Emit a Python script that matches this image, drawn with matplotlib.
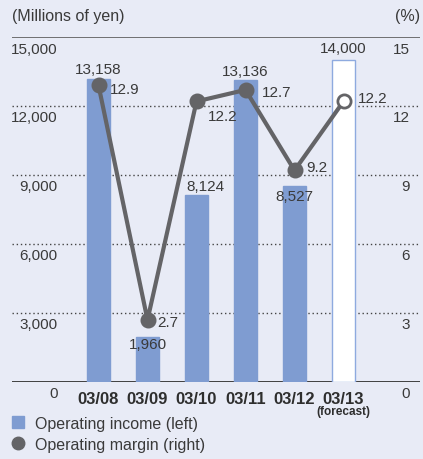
import numpy as np
import matplotlib
matplotlib.use('Agg')
import matplotlib.pyplot as plt
import matplotlib.transforms as mtransforms
from matplotlib.lines import Line2D

plt.rcParams['font.family'] = ['Liberation Sans', 'DejaVu Sans']

# data
years = ['03/08', '03/09', '03/10', '03/11', '03/12', '03/13']
income = [13158, 1960, 8124, 13136, 8527, 14000]
margin = [12.9, 2.7, 12.2, 12.7, 9.2, 12.2]
forecast = [False, False, False, False, False, True]
left_ticks = [0, 3000, 6000, 9000, 12000, 15000]
right_ticks = [0, 3, 6, 9, 12, 15]

bg = '#e8ebf6'
bar_col = '#7f9cd1'
line_col = '#646467'
txt = '#3a3a3a'

W, H = 423, 460
fig = plt.figure(figsize=(W / 100, H / 100), dpi=100, facecolor=bg)
ax = fig.add_axes([12 / W, 1 - 383 / H, 408 / W, 345 / H])
ax.set_facecolor('none')
for s in ax.spines.values():
    s.set_visible(False)

x = np.arange(len(years))
ax.set_xlim(-86.5 / 49, 321.5 / 49)
ax.set_ylim(0, 15000)

# grid lines
for t in left_ticks:
    if t == 0:
        ax.axhline(t, color='#333333', lw=1.3, zorder=1)
    elif t == 15000:
        ax.axhline(t, color='#666666', lw=1.3, zorder=1)
    else:
        ax.axhline(t, xmax=406 / 408, color='#444444', lw=1, ls=(0, (1, 2)), zorder=1)

fc = ['white' if f else bar_col for f in forecast]
ec = ['#8eaadf' if f else bar_col for f in forecast]
ax.bar(x, income, width=0.47, color=fc, edgecolor=ec, linewidth=1, zorder=2)

ax.set_xticks(x, years, fontsize=12, fontweight='bold', color='#2e2e2e')
ax.tick_params(axis='x', length=0, pad=6.5)
ax.annotate('(forecast)', xy=(5, 0), xycoords=('data', 'axes fraction'),
            xytext=(0, -29), textcoords='offset pixels', ha='center', va='center',
            fontsize=8.5, fontweight='bold', color='#2e2e2e')

ax.set_yticks(left_ticks, ['{:,}'.format(t) for t in left_ticks], fontsize=11, color=txt)
ax.tick_params(axis='y', length=0, pad=-33)
off = mtransforms.ScaledTranslation(0, -0.115, fig.dpi_scale_trans)
for lab in ax.get_yticklabels():
    lab.set_transform(lab.get_transform() + off)
    lab.set_va('center')

# income labels (pixel offsets from bar top)
inc_off = [(0, 10), (0, -7), (9, 9), (0, 9), (0, -10), (0, 12)]
for xi, v, o in zip(x, income, inc_off):
    ax.annotate('{:,}'.format(v), xy=(xi, v), xytext=o, textcoords='offset pixels',
                ha='center', va='center', fontsize=11, color=txt, zorder=5)

ax2 = ax.twinx()
for s in ax2.spines.values():
    s.set_visible(False)
ax2.set_ylim(0, 15)
ax2.set_yticks(right_ticks, [str(t) for t in right_ticks], fontsize=11, color=txt)
ax2.tick_params(axis='y', length=0, pad=-7.2)
for lab in ax2.get_yticklabels():
    lab.set_transform(lab.get_transform() + off)
    lab.set_ha('right')
    lab.set_va('center')

ax2.plot(x, margin, color=line_col, lw=3, zorder=3)
for xi, m, f in zip(x, margin, forecast):
    ax2.plot(xi, m, 'o', ms=9.5, mfc='white' if f else line_col, mec=line_col,
             mew=2, zorder=4)

mar_off = [(11, -4), (10, -2), (11.5, -15), (16, -2), (12, 3), (14, 3)]
for xi, m, o in zip(x, margin, mar_off):
    ax2.annotate('{:.1f}'.format(m), xy=(xi, m), xytext=o, textcoords='offset pixels',
                 ha='left', va='center', fontsize=11, color=txt, zorder=5)

fig.text(12 / W, 1 - 17 / H, '(Millions of yen)', fontsize=11.5, color=txt, va='center', ha='left')
fig.text(420 / W, 1 - 17 / H, '(%)', fontsize=11.5, color=txt, va='center', ha='right')

handles = [Line2D([], [], marker='s', ls='', color=bar_col, ms=8.5),
           Line2D([], [], marker='o', ls='', color=line_col, ms=9)]
fig.legend(handles, ['Operating income (left)', 'Operating margin (right)'],
           loc='upper left', bbox_to_anchor=(10 / W, 1 - 417 / H), frameon=False,
           borderaxespad=0, borderpad=0, handlelength=1, handletextpad=0.55,
           labelspacing=0.35, fontsize=11.5, labelcolor=txt)

fig.savefig('out.png', dpi=100, facecolor=bg)
